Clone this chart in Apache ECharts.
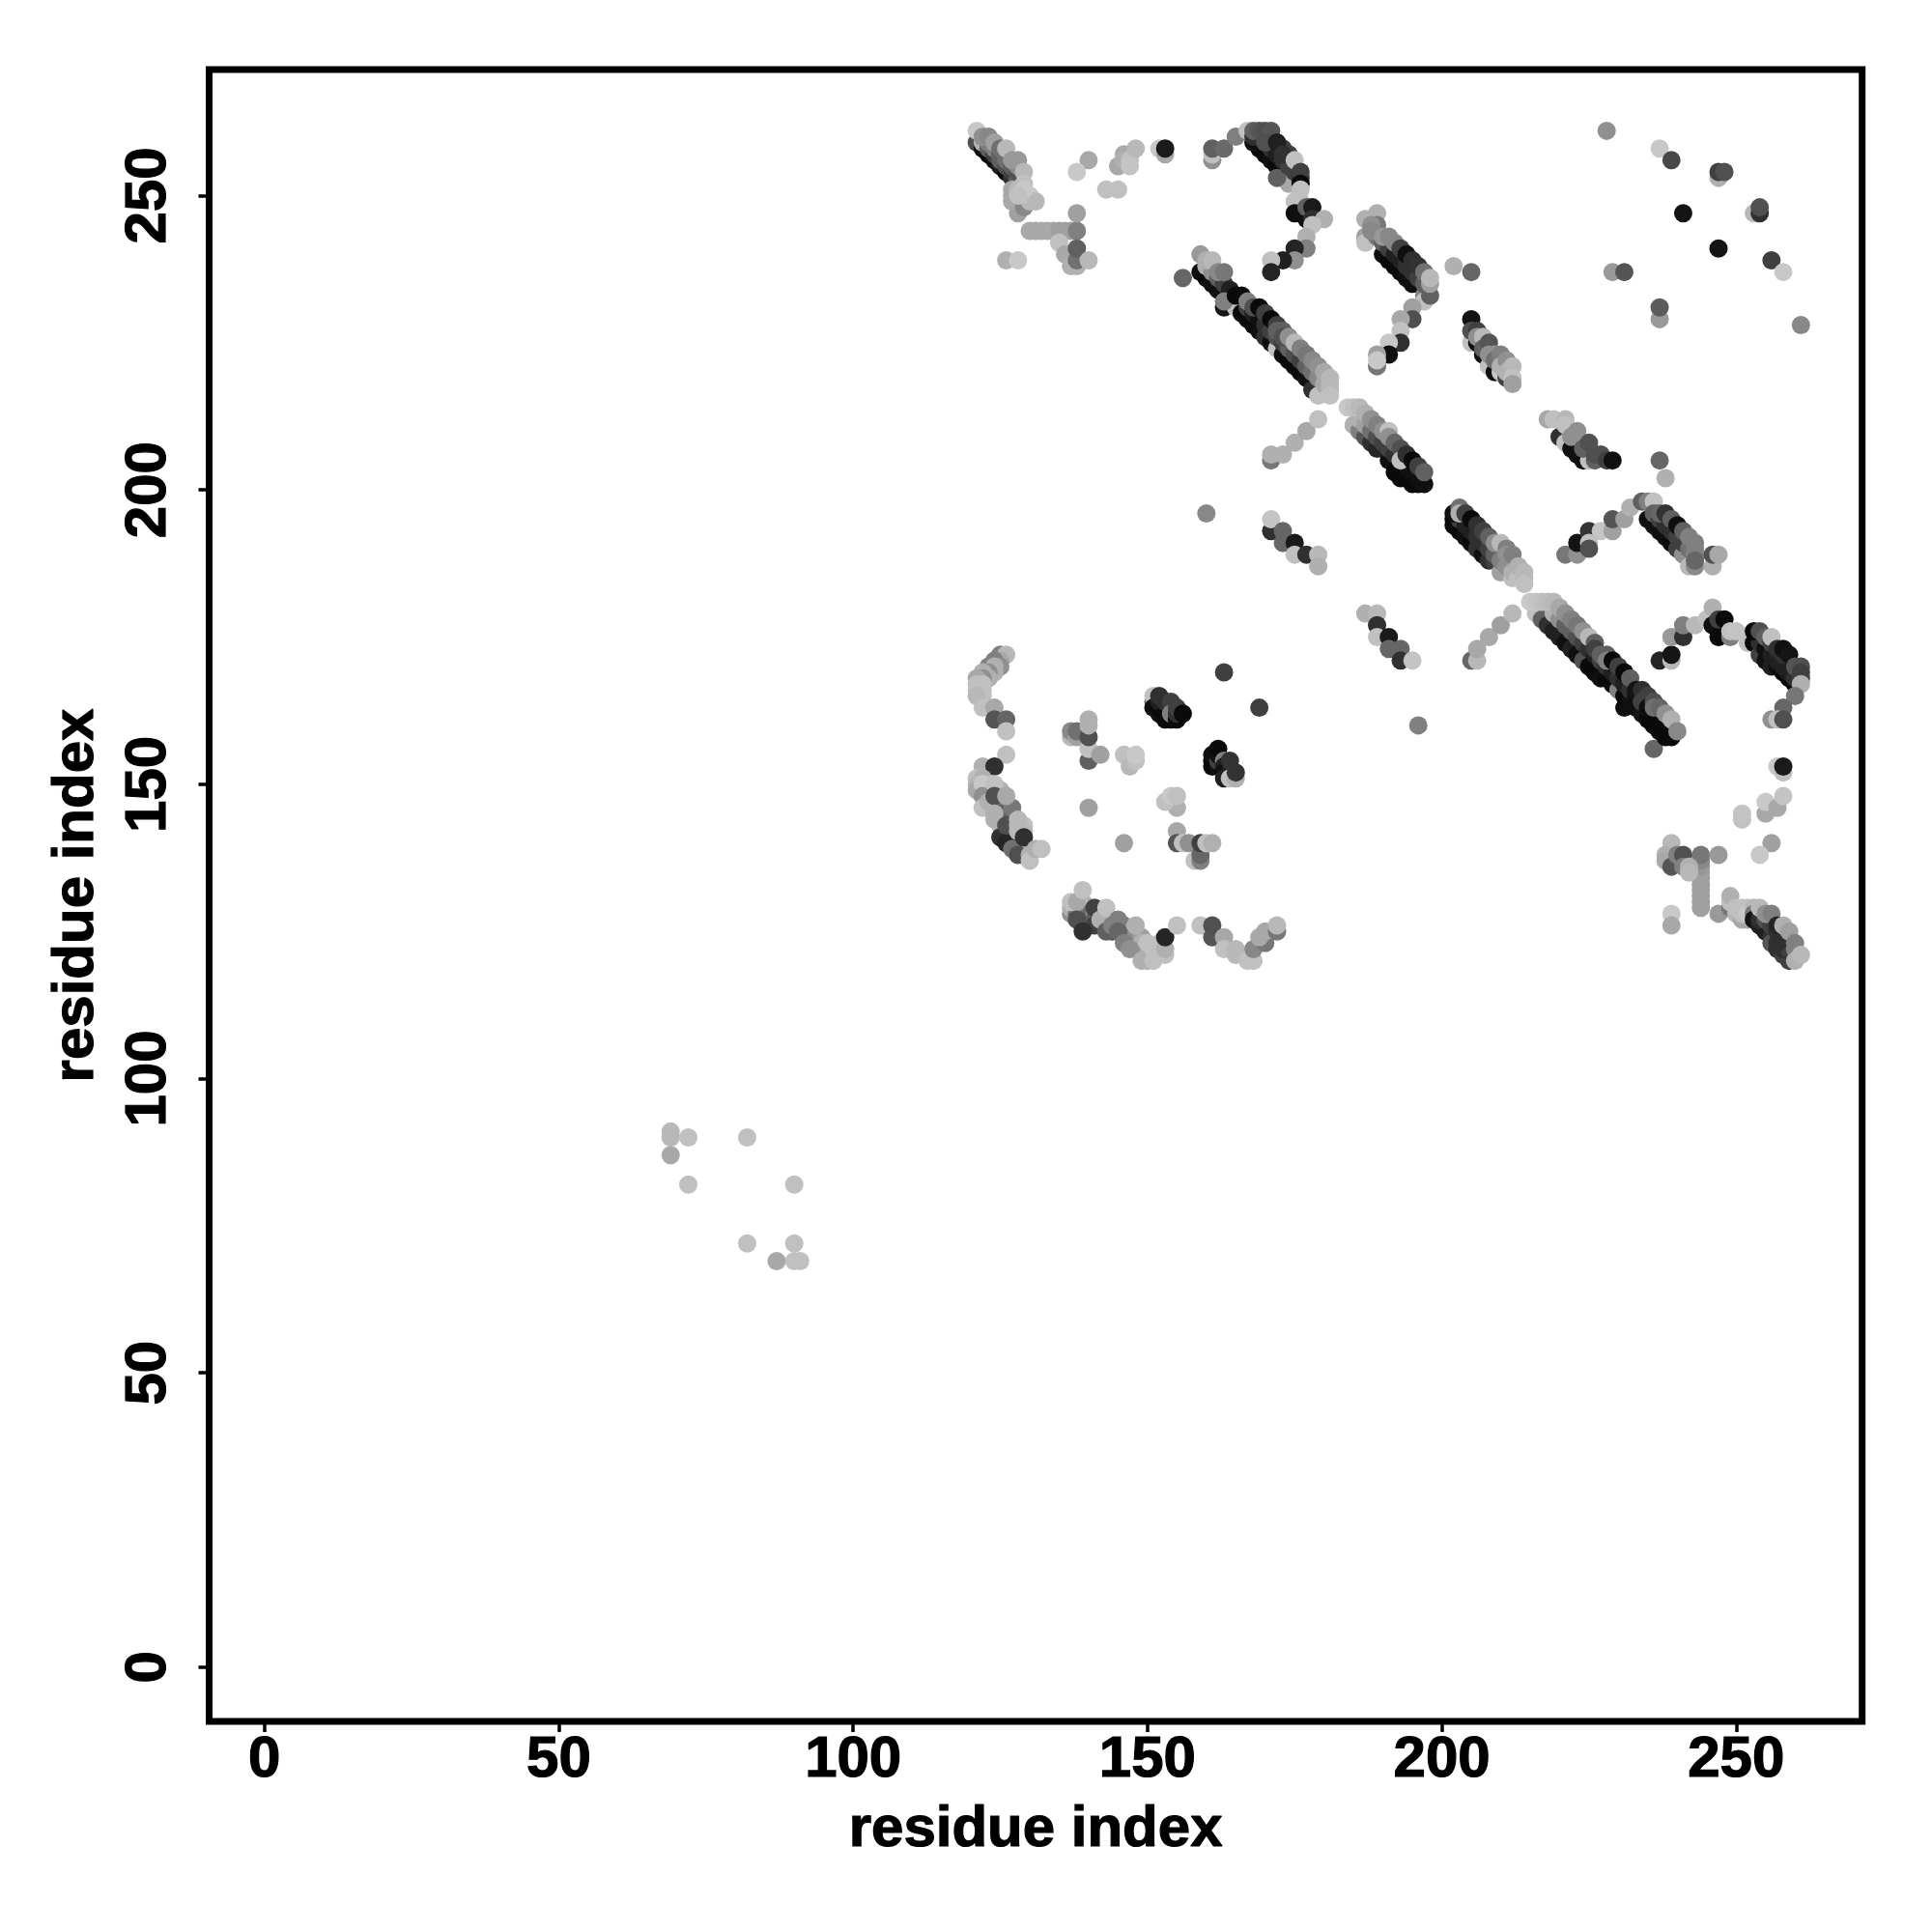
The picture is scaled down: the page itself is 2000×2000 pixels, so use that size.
<!DOCTYPE html>
<html><head><meta charset="utf-8">
<script src="https://cdn.jsdelivr.net/npm/echarts@6/dist/echarts.min.js"></script>
<style>html,body{margin:0;padding:0;background:#fff}#c{width:2000px;height:2000px}</style>
</head><body><div id="c"></div>
<script>
const tickValues=[0,50,100,150,200,250];
// each contact: [residue i, residue j, grey level]
const farCluster=[[69,91,184],[69,90,184],[69,87,168],[72,90,192],[82,90,192],[72,82,192],[90,82,192],[82,72,192],[90,72,192],[87,69,168],[90,69,192],[91,69,192]];
const stripeA=[[121,259,80],[122,258,16],[123,257,10],[124,256,16],[125,255,32],[126,254,10],[127,253,48],
[122,259,176],[123,258,96],[124,257,64],[125,256,96],[126,255,80],[127,254,64],[128,253,96],
[123,259,128],[124,258,128],[125,257,96],[126,256,112],[127,255,96],[128,254,80],[128,255,136],
[121,261,200],[122,260,144],[123,260,136],[124,259,160],[125,258,112],[126,258,184],[127,256,153],[128,256,153],[129,254,184],
[128,248,119],[128,247,160],[127,251,168],[127,250,168],[127,249,168],[129,252,192],[129,248,136],[128,251,184],[129,250,192],[130,249,184],[130,250,200],[131,249,184],[129,251,200],[128,250,192]];
const bar244h=[[130,244,168],[131,244,168],[132,244,168],[133,244,168],[134,244,168],[135,244,160],[136,244,160],[137,244,160],[138,244,128],[138,247,160],
[135,242,192],[136,240,168],[137,238,176],[138,238,176],[138,239,112],[138,241,96],[140,239,184],[126,239,176],[128,239,200]];
const arcTop=[[140,256,168],[138,254,200],[145,255,168],[146,257,168],[146,256,176],[147,256,192],[147,255,196],[148,258,184],[143,251,192],[145,251,192],[152,258,200],[153,257,168],[153,258,26],
[161,256,144],[161,257,192],[161,258,96],[163,258,106],[165,260,128],[167,261,192]];
const stripeB=[[169,258,10],[170,257,10],[171,256,16],[172,255,10],[173,254,10],[174,253,16],[175,252,10],[174,252,168],[172,253,96],[168,259,16],[168,260,48],
[170,259,48],[171,258,48],[172,257,32],[173,256,48],[174,255,64],[175,254,64],[176,253,48],
[173,258,64],[174,257,64],
[168,261,96],[169,261,85],[170,261,80],[171,261,85],[170,259,80],[172,259,32],[173,257,48],[175,256,192],[176,254,64],[176,252,10],[176,251,192],
[175,249,192],[176,249,192],[175,247,16],[176,247,16],[177,246,16],[177,248,96],[178,248,26],[178,246,48],[180,246,176],[178,245,192],
[177,243,176],[177,241,128],[175,241,37],[175,239,144],[173,239,32],[171,239,192],[171,237,37]];
const stripeC=[[159,237,16],[160,236,10],[161,235,16],[162,234,16],[163,231,21],[163,233,16],[164,232,16],[165,231,192],[166,230,10],[167,229,10],[168,228,10],[169,227,16],[170,226,48],[171,225,16],[172,224,192],[173,223,16],[174,222,10],[175,221,10],[176,220,10],[177,219,16],[178,217,48],[179,216,192],
[160,238,176],[161,237,144],[162,236,96],[163,235,64],[164,234,32],[167,231,64],[168,230,32],[169,229,16],[170,228,48],[171,227,64],[172,226,80],[173,225,64],[174,224,96],[175,223,80],[176,222,64],[177,221,96],[178,220,112],[179,219,136],[180,218,168],
[159,240,153],[160,239,176],[161,239,184],[162,237,136],[163,237,119],[156,236,102],[163,232,128],[165,233,10],[166,233,10],[167,232,128],[168,231,80],[169,231,10],[170,230,64],[171,229,10],[172,228,64],[172,227,96],[173,227,96],[173,226,80],[174,226,144],[175,225,184],[176,224,128],[177,223,119],[178,222,136],[179,221,144],[180,220,168],[181,219,184],[181,218,184],[181,217,184],[181,216,192]];
const stripeD=[[185,211,176],[186,210,128],[187,209,85],[188,208,48],[189,207,37],[190,207,37],[191,205,16],[192,203,10],[193,202,10],[194,202,10],[195,201,10],[196,201,10],
[186,212,176],[187,211,160],[188,210,112],[189,209,80],[190,208,64],[191,207,64],[192,206,48],[194,204,16],[195,203,16],[196,202,16],[197,201,16],
[184,214,200],[185,214,192],[186,214,184],[187,213,176],[188,212,144],[189,211,128],[190,210,144],[191,210,192],[191,209,144],[192,208,102],[193,207,80],[193,205,192],[194,206,48],[195,205,10],[196,204,64],[197,203,96]];
const arcMid=[[171,205,119],[171,206,176],[173,206,176],[175,208,176],[177,210,168],[179,212,192]];
const stripeE=[[187,246,176],[189,247,176],[189,245,119],[187,243,160],[187,242,192],[190,240,16],[191,239,10],[192,238,10],[193,237,10],[194,236,16],[195,235,16],[197,233,128],
[189,243,119],[190,242,96],[191,241,64],[192,240,32],[193,239,32],[194,238,48],[195,237,48],[196,236,64],[197,235,96],
[188,245,144],[188,244,136],[190,243,153],[191,243,136],[192,242,136],[193,241,64],[194,240,16],[195,239,48],[196,238,51],[197,237,112],[197,232,192],[198,233,96],[198,235,160],[198,236,184],[195,231,160],[195,229,80],[193,229,168],[193,227,192],[193,225,48],[191,225,200],[191,223,16],[189,223,160],[189,221,119],[189,222,200]];
const scatterTR=[[228,261,144],[237,258,200],[239,256,72],[247,253,176],[247,254,64],[248,254,80],[241,247,20],[253,247,184],[254,247,48],[254,248,80],[247,241,20],[256,239,64],[258,237,200],[202,238,176],[205,237,102],[229,237,153],[231,237,85],[237,229,153],[237,231,92],[261,228,136],[237,205,102],[238,202,176],[160,196,136],[196,160,128],[163,169,64],[169,163,64],[236,156,102]];
const stripeF=[[205,225,192],[206,225,16],[207,223,16],[208,222,16],[208,221,192],[209,220,16],[210,220,200],[211,219,64],
[205,229,20],[205,227,80],[206,227,64],[206,226,144],[207,226,184],[207,224,96],[208,225,85],[208,223,144],[209,223,144],[209,222,112],[210,223,128],[210,221,176],[211,222,144],[211,220,176],[212,221,184],[212,219,192],[212,218,160]];
const stripeG=[[221,209,192],[220,209,48],[221,208,192],[222,207,16],[223,206,16],[224,205,16],[225,205,192],[226,205,96],
[218,212,168],[219,212,192],[221,212,184],[221,211,192],[222,209,144],[223,210,144],[223,209,144],[224,207,96],[225,208,80],[226,206,80],[227,206,80],[228,205,64],[229,205,16]];
const stripeS3=[[202,194,10],[202,195,10],[203,193,10],[204,192,16],[205,191,10],[206,190,48],[207,189,16],[208,188,48],[209,188,64],[210,186,160],[212,185,192],
[203,195,64],[204,194,32],[205,193,32],[206,192,48],[207,191,48],[208,190,64],[209,189,96],[210,188,128],[211,187,144],[212,186,176],[213,185,192],
[202,196,16],[203,197,112],[203,196,176],[204,196,64],[205,195,10],[206,194,48],[207,193,64],[208,192,96],[209,191,144],[210,191,184],[211,190,128],[211,189,144],[212,189,128],[213,187,176],[214,186,184],[214,185,184],[214,184,192]];
const arcS3=[[171,193,48],[171,195,196],[173,193,102],[173,191,102],[175,191,26],[175,189,192],[177,189,48],[179,189,184],[179,187,176]];
const arc187=[[187,179,176],[189,179,184],[189,177,48],[189,175,192],[191,175,26],[191,173,102],[193,173,102],[193,171,48],[195,171,196]];
const stripeS4=[[216,179,192],[217,178,96],[218,177,48],[219,176,32],[220,175,32],[221,174,16],[222,173,32],[223,172,16],[224,171,80],[225,170,10],[226,169,10],[227,168,16],[228,168,10],[229,167,10],[230,166,128],[231,163,16],[231,165,10],[232,164,16],[233,163,16],[234,162,21],[235,161,10],[236,160,10],[237,159,10],[238,158,10],[239,158,10],
[219,179,176],[220,178,144],[221,177,96],[222,176,96],[223,175,80],[224,174,64],[225,173,48],[226,172,32],[227,171,64],[228,170,48],[229,169,32],[230,168,48],[231,167,32],[232,166,48],[233,165,16],[234,164,64],
[215,181,200],[216,181,196],[217,181,192],[218,181,188],[219,181,184],[220,180,168],[221,179,144],[222,178,128],[223,177,119],[224,176,144],[225,175,184],[226,174,96],[226,173,64],[227,172,96],[228,172,96],[228,171,128],[229,171,10],[230,170,64],[231,169,10],[232,168,96],[233,166,21],[234,166,48],[234,164,64],[235,165,64],[235,163,16],[236,164,80],[236,163,112],[237,163,102],[238,162,144],[239,161,176],[240,159,136]];
const arcS5=[[221,189,119],[223,189,144],[223,191,20],[225,193,51],[225,191,192],[225,190,80],[227,193,196],[229,193,160],[229,195,85],[231,195,160],[232,197,176],[234,198,96],[235,198,128],[236,198,192]];
const stripeS5=[[235,195,16],[236,194,16],[237,193,16],[238,192,16],[239,191,10],[240,190,64],[241,189,144],[242,187,184],[243,187,136],[246,187,176],
[236,196,96],[237,195,64],[238,194,48],[239,193,48],[240,192,64],[241,191,64],[242,190,112],[243,189,136],
[237,196,102],[238,196,51],[239,195,96],[240,194,16],[241,193,96],[242,192,128],[243,191,128],[243,190,128],[243,188,102],[246,189,80],[247,189,168]];
const arc205=[[205,171,102],[206,171,184],[206,173,168],[208,175,168],[210,177,160],[212,179,184]];
const arcS6=[[237,171,37],[239,171,184],[239,172,21],[239,175,153],[241,175,48],[241,177,128],[243,177,184],[245,178,192],[246,180,176],[246,177,16],[247,175,10],[247,178,64],[248,178,10],[249,175,128],[249,176,192],[250,176,196]];
const stripeS6=[[252,174,192],[253,174,10],[254,172,64],[255,171,16],[256,170,32],[257,170,16],[258,169,10],[259,168,10],[260,167,10],
[254,174,48],[255,173,16],[256,172,32],[257,171,32],[258,170,32],[259,169,32],[260,168,48],
[253,176,10],[254,176,80],[255,175,96],[256,174,64],[256,175,192],[257,173,48],[258,172,48],[258,173,16],[259,172,21],[260,170,85],[261,170,80],[261,169,64],[261,168,64],[261,167,176],[260,165,119],[258,163,102],[256,161,144],[257,161,192],[258,161,80]];
const rightLow=[[257,153,200],[258,152,192],[258,153,26],[255,145,168],[255,147,200],[257,146,168],[258,148,196],[251,144,192],[251,145,196],[256,140,160],[254,138,200]];
const bar244v=[[244,129,160],[244,130,160],[244,131,160],[244,132,160],[244,133,160],[244,134,160],[244,135,160],[244,136,152],[244,137,136],[244,138,119],[247,138,153],
[239,140,184],[238,138,176],[238,137,168],[239,136,85],[240,138,128],[241,138,80],[241,136,128],[242,136,176],[242,135,184],[239,128,200],[239,126,168]];
const stripeH=[[247,128,153],[249,129,119],[249,130,192],[250,128,184],[251,127,168],[252,127,168],[249,131,176],[250,129,192],[251,128,192],[251,129,192],[252,129,192],[252,128,200],[253,129,184],[253,128,119],
[253,127,21],[254,126,32],[255,125,32],[256,124,48],[256,123,85],[257,122,48],[258,121,64],[259,120,64],
[254,127,48],[255,127,80],[256,126,64],[257,125,48],[258,124,64],[258,122,48],[259,123,96],[259,122,64],[260,122,128],
[254,129,184],[255,128,144],[256,128,128],[257,126,37],[257,123,48],[258,126,176],[259,125,160],[260,123,128],[260,120,176],[261,121,184]];
const midCluster=[[151,164,112],[151,165,192],[151,163,16],[152,162,16],[152,163,10],[152,164,32],[152,165,48],[153,162,10],[153,164,48],[153,161,10],[154,161,10],[154,164,64],[154,162,128],[155,161,10],[155,162,48],[155,163,64],[156,162,10],
[161,153,10],[161,154,10],[161,155,16],[162,153,16],[162,154,64],[162,155,16],[162,156,10],[163,154,128],[163,153,32],[163,152,16],[163,151,32],[164,152,32],[164,151,192],[164,154,51],[165,151,176],[165,152,51]];
const arcLeft=[[125,172,128],[126,172,184],[125,171,168],[124,171,128],[125,170,144],[123,170,128],[124,170,176],[124,169,176],[123,169,144],[122,169,176],[123,168,176],[122,168,144],[121,168,168],[122,167,192],[121,167,192],[122,166,192],[121,166,192],[122,165,192],[121,165,184],[122,163,192],[124,163,168],[124,161,85],[126,161,102],[126,159,192],[126,155,192],[122,153,176],[124,153,48]];
const stripeLeft=[[121,151,192],[122,151,176],[121,150,184],[123,150,184],[125,149,176],[122,149,176],[123,149,168],[123,148,144],[124,147,112],[124,146,136],[125,147,144],[125,146,112],[126,146,128],[126,145,112],[126,144,96],[127,145,128],[127,144,96],[127,143,80],[127,142,48],[127,141,64],[128,141,80],[128,140,48],[128,139,64],[129,140,96],[129,139,128],[129,138,168],[126,142,96],[125,143,176],[124,144,176],[123,146,192],[129,143,192],[129,142,184],
[121,149,168],[122,150,200],[122,148,144],[122,146,192],[123,147,176],[124,150,192],[124,148,80],[125,145,96],[124,145,176],[125,141,48],[126,140,37],[126,143,80],[127,139,112],[128,138,80],[127,146,119],[126,148,168],[128,144,184],[128,143,184],[128,142,184],[129,141,48],[130,138,176],[130,137,192],[131,139,176],[132,139,192]];
const arcBottom=[[137,128,144],[137,129,176],[138,129,144],[138,128,112],[139,130,176],[139,129,192],[139,128,96],[139,127,64],[140,128,112],[140,127,96],[140,126,48],[141,128,144],[141,127,96],[141,126,64],[142,128,176],[143,128,176],[143,127,192],[144,127,112],[144,125,80],[145,126,96],[146,126,128],[146,125,112],[146,124,112],[147,125,160],[147,124,128],[147,123,112],[148,124,144],[148,123,136],[148,122,128],[149,124,160],[149,122,160],[149,123,176],[150,122,144],[150,121,168],[150,120,176],[151,121,176],[152,121,192],[152,122,192],[152,123,192],[153,121,192],
[137,130,192],[138,130,168],[138,127,80],[139,132,192],[139,125,48],[141,129,64],[142,127,176],[143,129,192],[143,125,96],[144,126,128],[145,127,128],[145,125,102],[146,123,128],[147,122,144],[148,126,176],[149,120,176],[150,123,192],[151,120,192],[151,122,192],[153,122,176],[153,124,37],[155,126,192],
[159,126,192],[161,124,85],[161,126,80],[163,124,168],[163,122,192],[165,122,184],[165,121,184],[167,120,192],[168,120,192],[168,122,136],[170,123,119],[169,124,168],[170,125,168],[172,125,119],[172,126,184]];
const cluster140=[[137,158,184],[137,159,136],[138,158,160],[138,159,112],[140,154,96],[140,156,192],[140,158,80],[140,160,176],[140,161,176],[142,155,160],[146,155,192],[147,153,184],[148,154,192],[148,155,200],
[140,146,160],[146,140,160],[155,146,176],[153,147,192],[154,148,200],[155,148,192],[155,142,168],[155,140,85],[156,140,192],[157,140,144],[158,137,192],[159,137,128],[159,138,102],[159,140,64],[160,140,192],[161,140,176]];

const groups=[farCluster,stripeA,bar244h,arcTop,stripeB,stripeC,stripeD,arcMid,stripeE,scatterTR,stripeF,stripeG,stripeS3,arcS3,arc187,stripeS4,arcS5,stripeS5,arc205,arcS6,stripeS6,rightLow,bar244v,stripeH,midCluster,arcLeft,stripeLeft,arcBottom,cluster140];
const contacts=groups.flat();
const font='"Liberation Sans"';
const heavy={fontFamily:font,fontWeight:'bold',fontSize:60,color:'#000',textBorderColor:'#000',textBorderWidth:1.2};
const chart=echarts.init(document.getElementById('c'),null,{renderer:'canvas'});
function axis(extra){return Object.assign({type:'value',min:-9.4,max:271.4,name:'residue index',nameLocation:'middle',
 nameTextStyle:heavy,
 splitLine:{show:false},axisLine:{show:false,onZero:false},
 axisTick:{show:true,customValues:tickValues,length:11,lineStyle:{color:'#000',width:3.5}}},extra);}
chart.setOption({animation:false,backgroundColor:'#fff',
 grid:{left:216.5,right:72.3,top:72,bottom:218,show:true,borderColor:'#000',borderWidth:7,backgroundColor:'transparent'},
 xAxis:axis({nameGap:82,axisLabel:Object.assign({customValues:tickValues,margin:10},heavy)}),
 yAxis:axis({min:-9.2,nameGap:107,axisLabel:Object.assign({customValues:tickValues,rotate:90,margin:32},heavy)}),
 series:[{type:'scatter',symbol:'circle',symbolSize:19,large:false,progressive:0,data:contacts,
  itemStyle:{opacity:1,color:p=>{const g=p.value[2];return `rgb(${g},${g},${g})`;}}}]});
</script></body></html>
